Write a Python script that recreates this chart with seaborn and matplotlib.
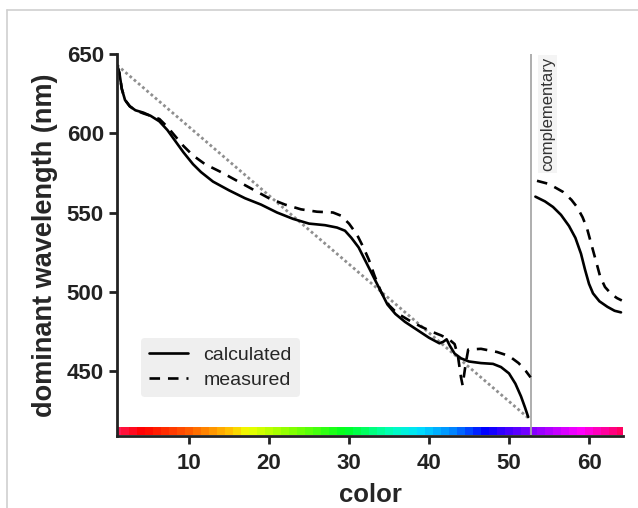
import matplotlib
matplotlib.use("Agg")
import matplotlib.pyplot as plt
from matplotlib.colors import LinearSegmentedColormap
from matplotlib.lines import Line2D
import numpy as np
import pandas as pd
import seaborn as sns

# ---- data -------------------------------------------------------------
calc_x = [1.0, 1.3, 1.6, 2.0, 2.6, 3.3, 4.3, 5.2, 6.3, 7.3, 8.3, 9.3, 10.5, 11.5,
          13, 15, 17, 19, 21, 23, 25, 27, 28.5, 29.5, 30.3, 31.2, 32, 32.8, 33.8,
          34.8, 35.8, 37, 38.5, 40, 41.3, 41.8, 42.2, 42.6, 43.2, 44, 45, 46.5,
          48, 49, 50, 50.8, 51.5, 52, 52.4]
calc_y = [643, 638, 628, 621, 617, 614.5, 613, 611, 607.5, 602, 595, 588, 580.5,
          575.5, 569.5, 564, 559, 555, 550, 546, 543, 542, 540.5, 538.5, 534, 528, 520,
          512, 502, 492, 486, 481, 476, 471, 467.5, 468.5, 470, 466, 461, 458, 456,
          455, 454.5, 452.5, 448.5, 442, 434, 427, 421]

calc_comp_x = [53.3, 54.5, 55.5, 56.5, 57.5, 58.3, 59, 59.5, 60, 60.5, 61.3, 62.3, 63.2, 64]
calc_comp_y = [560, 557, 553.5, 548.5, 541.5, 534, 524, 514, 505, 499, 494, 490.5, 488, 487]

meas_x = [1.0, 1.3, 1.6, 2.0, 2.6, 3.3, 4.3, 5.2, 6.3, 7.3, 8.3, 9.3, 10.5, 12, 14,
          16, 18, 20, 22, 24, 26, 28, 29, 30, 31, 31.8, 32.5, 33.2, 34, 35, 36,
          37.5, 39, 40.5, 41.5, 42.5, 43.2, 43.6, 44.0, 44.2, 44.6, 44.9, 46.5,
          48.5, 50, 51.2, 52.1, 52.7]
meas_y = [643, 638, 628, 621, 617, 614.5, 612.5, 611, 609, 604, 598, 592, 586,
          580.5, 575.5, 570, 564.5, 559, 555, 552, 550.5, 550, 548, 543, 536, 528,
          520, 510, 500, 491.5, 486.5, 482, 478, 474.5, 472.5, 470, 467, 460, 446,
          441, 455, 463.5, 464, 462, 459.5, 455, 450, 446]

meas_comp_x = [53.5, 55, 56.75, 57.8, 58.5, 59.2, 59.75, 60.4, 61, 61.4, 62, 62.8, 63.5, 64.1]
meas_comp_y = [570, 568, 563, 558, 553.5, 547, 540, 528, 517, 509.5, 503, 498.5, 496, 494.5]

ideal_x = [1, 52.5]
ideal_y = [643, 420]

complementary_at = 52.7
color_index = list(range(1, 65))
x_ticks = [10, 20, 30, 40, 50, 60]
y_ticks = [450, 500, 550, 600, 650]

# spectrum used for the colour strip along the x axis
spectrum_pos = [0.0, 0.05, 0.14, 0.22, 0.26, 0.35, 0.45, 0.55, 0.60, 0.67, 0.73, 0.80, 0.87, 0.92, 1.0]
spectrum_col = ["#ff1a55", "#ff0000", "#ff5a00", "#ffc000", "#f0ff00", "#80ff00", "#00ff20",
                "#00ffc0", "#00e0ff", "#0080ff", "#0000ff", "#6000ff", "#c000ff", "#ff00ff", "#ff0060"]

# ---- style ------------------------------------------------------------
sns.set_style("ticks")
plt.rcParams["font.family"] = ["Liberation Sans", "DejaVu Sans"]

fig = plt.figure(figsize=(6.38, 5.08), dpi=100)
ax = fig.add_axes([117 / 638, 1 - 436 / 508, 506 / 638, 382 / 508])


def seg(x, y):
    return pd.DataFrame({"color": x, "wavelength": y})


lw = 1.9
sns.lineplot(data=seg(ideal_x, ideal_y), x="color", y="wavelength", ax=ax,
             color="#8f8f8f", lw=2.0, linestyle=(0, (1, 1)), estimator=None)
sns.lineplot(data=seg(calc_x, calc_y), x="color", y="wavelength", ax=ax,
             color="black", lw=lw, estimator=None, label="calculated")
sns.lineplot(data=seg(meas_x, meas_y), x="color", y="wavelength", ax=ax,
             color="black", lw=lw, linestyle=(0, (4, 3)), estimator=None, label="measured")
sns.lineplot(data=seg(calc_comp_x, calc_comp_y), x="color", y="wavelength", ax=ax,
             color="black", lw=lw, estimator=None)
sns.lineplot(data=seg(meas_comp_x, meas_comp_y), x="color", y="wavelength", ax=ax,
             color="black", lw=lw, linestyle=(0, (4, 3)), estimator=None)

# boundary to the complementary region
ax.axvline(complementary_at, color="#a8a8a8", lw=1.3, zorder=1)
ax.text(complementary_at + 2.1, 648, "complementary", rotation=90, ha="center", va="top",
        fontsize=12, color="#333333",
        bbox=dict(boxstyle="square,pad=0.12", fc="#f4f4f4", ec="none"))

# colour strip
cmap = LinearSegmentedColormap.from_list("spectrum", list(zip(spectrum_pos, spectrum_col)))
strip = np.array(color_index, dtype=float)[None, :]
ax.imshow(strip, cmap=cmap, aspect="auto", extent=(0.5, 64.5, 409.5, 414.5),
          interpolation="nearest", zorder=0)

ax.set_xlim(1, 64.25)
ax.set_ylim(409, 650)
ax.set_xticks(x_ticks)
ax.set_yticks(y_ticks)
ax.set_xlabel("color", fontsize=18.5, fontweight="bold", labelpad=7)
ax.set_ylabel("dominant wavelength (nm)", fontsize=19.5, fontweight="bold", labelpad=6)
ax.tick_params(axis="both", labelsize=16, width=2, length=6, direction="out", color="#222222",
               labelcolor="#222222")
ax.tick_params(axis="x", pad=6)
for lab in ax.get_xticklabels() + ax.get_yticklabels():
    lab.set_fontweight("bold")
for side in ["top", "right"]:
    ax.spines[side].set_visible(False)
for side in ["left", "bottom"]:
    ax.spines[side].set_linewidth(2)
    ax.spines[side].set_color("#222222")

leg = ax.legend(loc="lower left", bbox_to_anchor=(0.048, 0.102), fontsize=14,
                frameon=True, fancybox=True, handlelength=2.0, borderpad=0.4,
                labelspacing=0.4, handletextpad=0.8, borderaxespad=0)
leg.get_frame().set_facecolor("#efefef")
leg.get_frame().set_edgecolor("none")
leg.get_frame().set_alpha(1)

# thin outer frame
fig.add_artist(Line2D([7 / 638, 1], [1 - 9.5 / 508, 1 - 9.5 / 508], transform=fig.transFigure,
                      color="#cfcfcf", lw=1.2))
fig.add_artist(Line2D([7 / 638, 7 / 638], [0, 1 - 9.5 / 508], transform=fig.transFigure,
                      color="#cfcfcf", lw=1.2))

fig.savefig("out.png", dpi=100)
